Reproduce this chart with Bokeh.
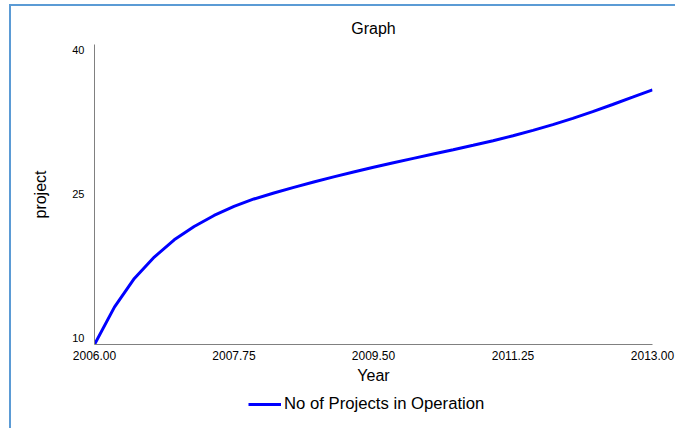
from bokeh.plotting import figure
from bokeh.layouts import column
from bokeh.models import (Range1d, LinearAxis, FixedTicker, PrintfTickFormatter,
                          Legend, LegendItem)
from bokeh.embed import file_html
from bokeh.resources import INLINE

# ---- data ----
years = [2006.00, 2006.25, 2006.50, 2006.75, 2007.00, 2007.25, 2007.50, 2007.75,
         2008.00, 2008.25, 2008.50, 2008.75, 2009.00, 2009.25, 2009.50, 2009.75,
         2010.00, 2010.25, 2010.50, 2010.75, 2011.00, 2011.25, 2011.50, 2011.75,
         2012.00, 2012.25, 2012.50, 2012.75, 2013.00]
projects = [10.00, 13.89, 16.88, 19.11, 20.91, 22.29, 23.44, 24.38,
            25.16, 25.78, 26.37, 26.93, 27.46, 27.97, 28.46, 28.93,
            29.39, 29.84, 30.29, 30.75, 31.23, 31.75, 32.30, 32.90,
            33.55, 34.25, 35.00, 35.76, 36.53]
x_ticks = [2006.00, 2007.75, 2009.50, 2011.25, 2013.00]
y_ticks = [10, 25, 40]
title_text = "Graph"
x_title = "Year"
y_title = "project"
series_name = "No of Projects in Operation"

FONT = "Liberation Sans"
LINE_COLOR = "#0000FF"
Y_MIN, Y_MAX = 10, 41.25
LABEL_SHIFT = 7 / 9.6   # reference draws y labels a little above their ticks

# ---------------- main chart ----------------
p = figure(width=664, height=388, output_backend="svg", toolbar_location=None,
           x_range=Range1d(2006, 2013), y_range=Range1d(Y_MIN, Y_MAX),
           y_axis_location=None, title=title_text,
           min_border_left=83, min_border_right=23, min_border_top=38,
           min_border_bottom=50)

p.outline_line_color = None
p.grid.visible = False
p.background_fill_color = "white"
p.border_fill_color = "white"

p.title.align = "center"
p.title.text_font = FONT
p.title.text_font_size = "16px"
p.title.text_font_style = "normal"
p.title.text_color = "black"
p.title.standoff = 15

# x axis
xa = p.xaxis[0]
xa.ticker = FixedTicker(ticks=x_ticks)
xa.formatter = PrintfTickFormatter(format="%.2f")
xa.axis_label = x_title
xa.axis_line_color = "#808080"
xa.major_tick_line_color = None
xa.minor_tick_line_color = None
xa.major_tick_out = 0
xa.minor_tick_out = 0
xa.major_label_standoff = 6
xa.major_label_text_font = FONT
xa.major_label_text_font_size = "12px"
xa.major_label_text_color = "black"
xa.axis_label_standoff = 4
xa.axis_label_text_font = FONT
xa.axis_label_text_font_size = "16px"
xa.axis_label_text_font_style = "normal"
xa.axis_label_text_color = "black"

# y axis
p.extra_y_ranges = {"labels": Range1d(Y_MIN - LABEL_SHIFT, Y_MAX - LABEL_SHIFT)}
ya = LinearAxis(y_range_name="labels", ticker=FixedTicker(ticks=y_ticks),
                axis_label=y_title)
ya.axis_line_color = "#808080"
ya.major_tick_line_color = None
ya.minor_tick_line_color = None
ya.major_tick_out = 0
ya.minor_tick_out = 0
ya.major_label_standoff = 10
ya.major_label_text_font = FONT
ya.major_label_text_font_size = "11px"
ya.major_label_text_color = "black"
ya.axis_label_standoff = 20
ya.axis_label_text_font = FONT
ya.axis_label_text_font_size = "16px"
ya.axis_label_text_font_style = "normal"
ya.axis_label_text_color = "black"
p.add_layout(ya, "left")

p.line(years, projects, line_color=LINE_COLOR, line_width=3)

# ---------------- legend strip below the chart ----------------
leg = figure(width=664, height=34, output_backend="svg", toolbar_location=None,
             x_range=Range1d(0, 1), y_range=Range1d(0, 1),
             x_axis_location=None, y_axis_location=None,
             min_border=0, min_border_left=0, min_border_right=0,
             min_border_top=0, min_border_bottom=0)
leg.outline_line_color = None
leg.grid.visible = False
leg.background_fill_color = "white"
leg.border_fill_color = "white"
# same series, out of this strip's view: it only supplies the legend key
key = leg.line(years, projects, line_color=LINE_COLOR, line_width=3)

legend = Legend(items=[LegendItem(label=series_name, renderers=[key])],
                location=(154, 14), orientation="horizontal",
                glyph_width=33, glyph_height=18, label_height=18, label_standoff=3,
                padding=0, margin=0, spacing=0,
                border_line_color=None, background_fill_alpha=0,
                label_text_font=FONT, label_text_font_size="16.7px",
                label_text_color="black")
leg.add_layout(legend, "center")

layout = column(p, leg, spacing=0,
                styles={"margin-left": "9px", "margin-top": "4px",
                        "border-left": "2px solid #5B9BD5",
                        "border-top": "2px solid #5B9BD5"})

open("out.html", "w").write(file_html(layout, INLINE))
